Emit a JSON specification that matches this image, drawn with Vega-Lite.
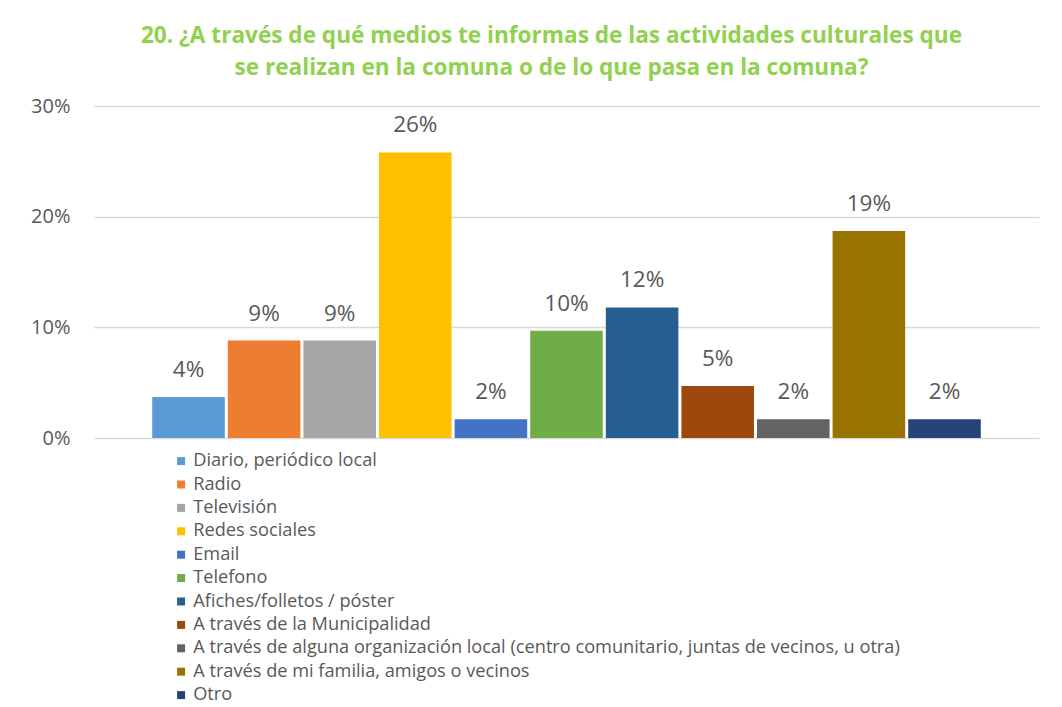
{
  "$schema": "https://vega.github.io/schema/vega-lite/v6.json",
  "autosize": {"type": "none"},
  "width": 945,
  "height": 332,
  "padding": {"left": 94, "top": 106, "right": 23, "bottom": 269},
  "background": "white",
  "title": {
    "text": ["20. ¿A través  de qué medios te informas  de las actividades culturales que", "se realizan en la comuna o de lo que pasa en  la comuna?"],
    "font": "Open Sans",
    "fontSize": 22.6,
    "fontWeight": "bold",
    "color": "#92D050",
    "anchor": "middle",
    "dx": -15,
    "lineHeight": 32,
    "offset": 16
  },
  "data": {
    "values": [
      {"medio": "Diario, periódico local", "valor": 0.037, "label": "4%"},
      {"medio": "Radio", "valor": 0.088, "label": "9%"},
      {"medio": "Televisión", "valor": 0.088, "label": "9%"},
      {"medio": "Redes sociales", "valor": 0.258, "label": "26%"},
      {"medio": "Email", "valor": 0.017, "label": "2%"},
      {"medio": "Telefono", "valor": 0.097, "label": "10%"},
      {"medio": "Afiches/folletos / póster", "valor": 0.118, "label": "12%"},
      {"medio": "A través de la Municipalidad", "valor": 0.047, "label": "5%"},
      {"medio": "A través de alguna organización local (centro comunitario, juntas de vecinos, u otra)", "valor": 0.017, "label": "2%"},
      {"medio": "A través de mi familia, amigos o vecinos", "valor": 0.187, "label": "19%"},
      {"medio": "Otro", "valor": 0.017, "label": "2%"}
    ]
  },
  "encoding": {
    "x": {
      "field": "medio",
      "type": "nominal",
      "sort": null,
      "axis": null,
      "scale": {"paddingInner": 0.04, "paddingOuter": 0.77}
    },
    "y": {
      "field": "valor",
      "type": "quantitative",
      "scale": {"domain": [0, 0.3]},
      "axis": {
        "values": [0, 0.1, 0.2, 0.3],
        "format": ".0%",
        "title": null,
        "domain": false,
        "ticks": false,
        "labelFont": "Open Sans",
        "labelFontSize": 20,
        "labelColor": "#595959",
        "labelPadding": 24,
        "gridColor": "#D9D9D9",
        "gridWidth": 1.5
      }
    }
  },
  "layer": [
    {
      "mark": {"type": "bar"},
      "encoding": {
        "color": {
          "field": "medio",
          "type": "nominal",
          "sort": null,
          "scale": {
            "range": ["#5B9BD5", "#ED7D31", "#A5A5A5", "#FFC000", "#4472C4", "#70AD47", "#255E91", "#9E480E", "#636363", "#997300", "#264478"]
          },
          "legend": {
            "title": null,
            "orient": "none",
            "legendX": 78,
            "legendY": 346,
            "symbolType": "square",
            "symbolSize": 64,
            "symbolStrokeWidth": 0,
            "labelFont": "Open Sans",
            "labelFontSize": 18.2,
            "labelColor": "#595959",
            "labelLimit": 900,
            "rowPadding": 4.4,
            "labelOffset": 3
          }
        }
      }
    },
    {
      "mark": {"type": "text", "baseline": "alphabetic", "dy": -20, "font": "Open Sans", "fontSize": 22.5, "color": "#595959"},
      "encoding": {"text": {"field": "label"}}
    }
  ],
  "config": {"view": {"stroke": null}}
}
